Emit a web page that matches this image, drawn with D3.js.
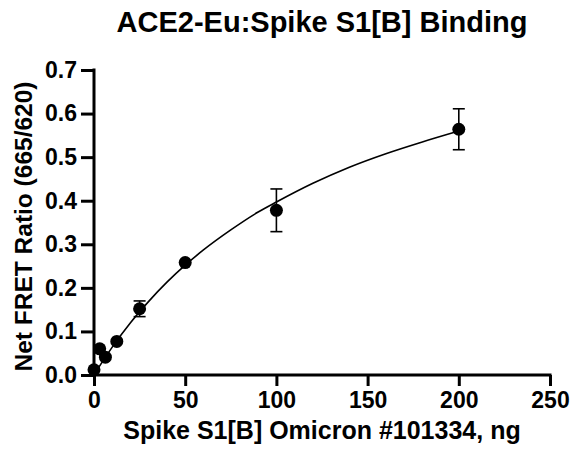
<!DOCTYPE html>
<html>
<head>
<meta charset="utf-8">
<script src="https://cdn.jsdelivr.net/npm/d3@7"></script>
<style>
  body { margin: 0; background: #fff; }
  text { font-family: "Liberation Sans", Arial, sans-serif; font-weight: bold; fill: #000; }
</style>
</head>
<body>
<svg id="chart" width="570" height="455"></svg>
<script>
// measured points (ng, net FRET ratio, SD)
var amounts = [0, 3.125, 6.25, 12.5, 25, 50, 100, 200];
var ratios  = [0.012, 0.060, 0.041, 0.077, 0.152, 0.258, 0.378, 0.564];
var errs    = [0, 0, 0, 0, 0.018, 0, 0.049, 0.047];

// fitted curve
var fitX = [0, 5, 10, 20, 30, 40, 50, 60, 75, 90, 100, 120, 140, 160, 180, 200];
var fitY = [0, 0.033, 0.064, 0.120, 0.169, 0.213, 0.252, 0.287, 0.333, 0.374, 0.397, 0.440, 0.477, 0.508, 0.535, 0.560];

var xTicks = [0, 50, 100, 150, 200, 250];
var yTicks = [0, 0.1, 0.2, 0.3, 0.4, 0.5, 0.6, 0.7];

var svg = d3.select("#chart");
var margin = {left: 94, right: 20, top: 70, bottom: 80};
var W = 570, H = 455;

var x = d3.scaleLinear().domain([0, 250]).range([margin.left, W - margin.right]);
var y = d3.scaleLinear().domain([0, 0.7]).range([H - margin.bottom, margin.top]);

// axes
var xAxis = svg.append("g")
    .attr("transform", "translate(0," + y(0) + ")")
    .call(d3.axisBottom(x).tickValues(xTicks).tickSize(11).tickPadding(6).tickFormat(d3.format("d")));
var yAxis = svg.append("g")
    .attr("transform", "translate(" + x(0) + ",0)")
    .call(d3.axisLeft(y).tickValues(yTicks).tickSize(13).tickPadding(4).tickFormat(d3.format(".1f")));

[xAxis, yAxis].forEach(function(a) {
    a.select(".domain").attr("stroke", "#000").attr("stroke-width", 3).attr("stroke-linecap", "square");
    a.selectAll(".tick line").attr("stroke", "#000").attr("stroke-width", 3);
    a.selectAll(".tick text").attr("font-size", 23).attr("fill", "#000")
        .style("font-family", "'Liberation Sans', Arial, sans-serif").style("font-weight", "bold");
});
// outer ticks off so domain is a plain line
xAxis.select(".domain").attr("d", "M" + x(0) + ",0H" + x(250));
yAxis.select(".domain").attr("d", "M0," + y(0.7) + "V" + y(0));

// fit line
var pts = fitX.map(function(v, i) { return [v, fitY[i]]; });
svg.append("path")
    .datum(pts)
    .attr("fill", "none")
    .attr("stroke", "#000")
    .attr("stroke-width", 1.6)
    .attr("d", d3.line().x(function(d) { return x(d[0]); }).y(function(d) { return y(d[1]); }).curve(d3.curveMonotoneX));

// error bars
var data = amounts.map(function(a, i) { return {a: a, r: ratios[i], e: errs[i]}; });
var eb = svg.append("g").attr("stroke", "#000").attr("stroke-width", 1.6);
data.filter(function(d) { return d.e > 0; }).forEach(function(d) {
    var cx = x(d.a);
    eb.append("line").attr("x1", cx).attr("x2", cx).attr("y1", y(d.r - d.e)).attr("y2", y(d.r + d.e));
    eb.append("line").attr("x1", cx - 6).attr("x2", cx + 6).attr("y1", y(d.r - d.e)).attr("y2", y(d.r - d.e));
    eb.append("line").attr("x1", cx - 6).attr("x2", cx + 6).attr("y1", y(d.r + d.e)).attr("y2", y(d.r + d.e));
});

// points
svg.append("g").selectAll("circle")
    .data(data)
    .enter().append("circle")
    .attr("cx", function(d) { return x(d.a); })
    .attr("cy", function(d) { return y(d.r); })
    .attr("r", 6.5)
    .attr("fill", "#000");

// titles
svg.append("text")
    .attr("x", (x(0) + x(250)) / 2).attr("y", 32)
    .attr("text-anchor", "middle").attr("font-size", 29)
    .text("ACE2-Eu:Spike S1[B] Binding");

svg.append("text")
    .attr("x", (x(0) + x(250)) / 2).attr("y", 439)
    .attr("text-anchor", "middle").attr("font-size", 25)
    .text("Spike S1[B] Omicron #101334, ng");

svg.append("text")
    .attr("transform", "translate(32," + ((y(0) + y(0.7)) / 2 + 4) + ") rotate(-90)")
    .attr("text-anchor", "middle").attr("font-size", 24.5)
    .text("Net FRET Ratio (665/620)");
</script>
</body>
</html>
